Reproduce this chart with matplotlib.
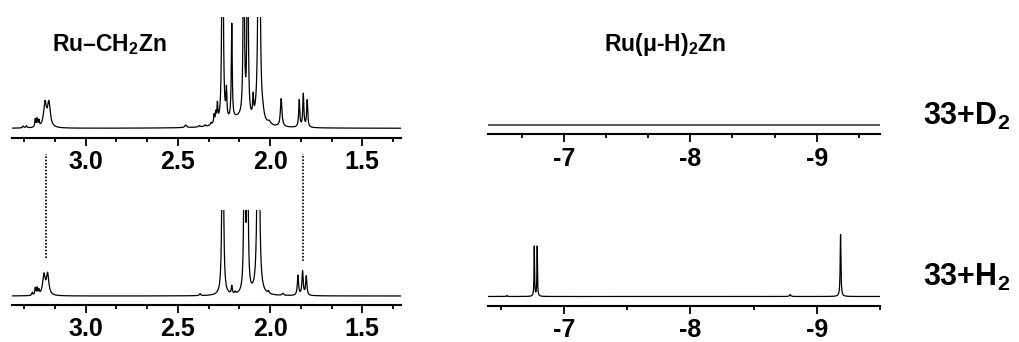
import numpy as np
import matplotlib
matplotlib.use("Agg")
import matplotlib.pyplot as plt
from matplotlib.ticker import MultipleLocator, FixedLocator
from matplotlib import transforms

plt.rcParams['font.family'] = ['Liberation Sans', 'DejaVu Sans']
plt.rcParams['font.weight'] = 'bold'
plt.rcParams['mathtext.fontset'] = 'custom'
plt.rcParams['mathtext.rm'] = 'Liberation Sans:bold'
plt.rcParams['mathtext.bf'] = 'Liberation Sans:bold'
plt.rcParams['mathtext.default'] = 'rm'

# ---- peak tables (shift / ppm, intensity / a.u., half-width / ppm) ----
# 33 + D2, methylene region
d2_ch_shift = [3.340, 3.322, 3.274, 3.264, 3.254, 3.221, 3.200, 2.458, 2.384,
               2.353, 2.320, 2.304, 2.295, 2.286, 2.258, 2.237, 2.208, 2.143,
               2.122, 2.092, 2.060, 2.040, 2.005, 1.940, 1.842, 1.820, 1.799, 2.170]
d2_ch_height = [2.0, 2.0, 8.0, 8.0, 6.0, 24.0, 24.0, 2.5, 1.5,
                1.5, 2.5, 9.0, 10.0, 18.0, 420.0, 28.0, 95.0, 280.0,
                280.0, 20.0, 520.0, 6.0, 3.0, 28.0, 27.0, 33.0, 27.0, 9.0]
d2_ch_width = [0.004, 0.004, 0.003, 0.003, 0.003, 0.009, 0.009, 0.006, 0.004,
               0.004, 0.004, 0.003, 0.003, 0.003, 0.003, 0.003, 0.003, 0.003,
               0.003, 0.003, 0.004, 0.008, 0.010, 0.005, 0.0035, 0.0035, 0.0035, 0.07]

# 33 + H2, methylene region
h2_ch_shift = [3.290, 3.274, 3.264, 3.254, 3.227, 3.207, 2.380, 2.257, 2.208,
               2.190, 2.139, 2.123, 2.064, 2.009, 1.931, 1.849, 1.824, 1.804]
h2_ch_height = [3.0, 7.0, 7.0, 4.5, 20.0, 21.0, 2.0, 420.0, 8.0,
                2.0, 290.0, 290.0, 520.0, 2.5, 2.0, 20.0, 24.0, 19.0]
h2_ch_width = [0.003, 0.003, 0.003, 0.003, 0.008, 0.008, 0.004, 0.003, 0.003,
               0.003, 0.003, 0.003, 0.004, 0.004, 0.005, 0.004, 0.004, 0.004]

# 33 + D2, hydride region (no signals)
d2_hyd_shift = []
d2_hyd_height = []
d2_hyd_width = []

# 33 + H2, hydride region
h2_hyd_shift = [-6.550, -6.766, -6.789, -8.790, -9.188]
h2_hyd_height = [1.0, 50.0, 50.0, 2.0, 62.0]
h2_hyd_width = [0.004, 0.0025, 0.0025, 0.006, 0.0035]

# axis ranges and tick steps
ch_range = (3.40, 1.29)
hyd_range = (-6.40, -9.50)
ch_ticks = [3.0, 2.5, 2.0, 1.5]
ch_labels = ['3.0', '2.5', '2.0', '1.5']
hyd_ticks = [-7, -8, -9]
hyd_labels = ['-7', '-8', '-9']
ch_minor = 0.5 / 3
hyd_minor_top, hyd_minor_bottom = 1.0 / 3, 0.5

# dotted guides linking the methylene signals
guide_shifts = [3.213, 1.822]


def spectrum(x, shifts, heights, widths):
    y = np.zeros_like(x)
    for c, h, g in zip(shifts, heights, widths):
        y += h * g ** 2 / ((x - c) ** 2 + g ** 2)
    return y


W, H = 1019, 342
fig = plt.figure(figsize=(W / 100, H / 100), dpi=100)


def add_axes(x0, x1, ybot, ytop):
    return fig.add_axes([x0 / W, 1 - ybot / H, (x1 - x0) / W, (ybot - ytop) / H])


ax_tl = add_axes(12, 401, 138, 16.7)
ax_bl = add_axes(12, 401, 305, 210)
ax_tr = add_axes(488, 880, 134, 16.7)
ax_br = add_axes(488, 880, 305.5, 210)

x_ch = np.linspace(ch_range[0], ch_range[1], 12000)
x_hyd = np.linspace(hyd_range[0], hyd_range[1], 12000)

panels = [
    (ax_tl, x_ch, d2_ch_shift, d2_ch_height, d2_ch_width, (-9.7, 111.6)),
    (ax_bl, x_ch, h2_ch_shift, h2_ch_height, h2_ch_width, (-9.0, 86.0)),
    (ax_tr, x_hyd, d2_hyd_shift, d2_hyd_height, d2_hyd_width, (-9.0, 108.3)),
    (ax_br, x_hyd, h2_hyd_shift, h2_hyd_height, h2_hyd_width, (-9.0, 86.5)),
]

for ax, x, s, h, w, ylim in panels:
    ax.plot(x, spectrum(x, s, h, w), color='black', lw=0.9)
    ax.set_xlim(x[0], x[-1])
    ax.set_ylim(*ylim)
    for side in ('top', 'left', 'right'):
        ax.spines[side].set_visible(False)
    ax.spines['bottom'].set_linewidth(1.5)
    ax.set_yticks([])
    ax.patch.set_visible(False)
    ax.tick_params(axis='x', which='major', direction='out', length=6,
                   width=1.3, pad=3, labelsize=18)
    ax.tick_params(axis='x', which='minor', direction='out', length=3,
                   width=1.3)

for ax in (ax_tl, ax_bl):
    ax.xaxis.set_major_locator(FixedLocator(ch_ticks))
    ax.xaxis.set_minor_locator(MultipleLocator(ch_minor))
    ax.set_xticklabels(ch_labels, fontweight='bold')

for ax, mn in ((ax_tr, hyd_minor_top), (ax_br, hyd_minor_bottom)):
    ax.xaxis.set_major_locator(FixedLocator(hyd_ticks))
    ax.xaxis.set_minor_locator(MultipleLocator(mn))
    ax.set_xticklabels(hyd_labels, fontweight='bold')

# dotted guides running from the lower trace up to the upper axis
tr = transforms.blended_transform_factory(ax_bl.transData, ax_bl.transAxes)
for xs, y0 in zip(guide_shifts, [0.49, 0.465]):
    ax_bl.plot([xs, xs], [y0, 1.59], transform=tr, clip_on=False,
               color='black', lw=1.2, linestyle=(0, (1, 1)))

fig.text(51.7 / W, 1 - 50.7 / H, 'Ru–CH$_2$Zn', fontsize=16.5,
         fontweight='bold', va='baseline', ha='left')
fig.text(604 / W, 1 - 51 / H, 'Ru(μ-H)$_2$Zn', fontsize=16.5,
         fontweight='bold', va='baseline', ha='left')
fig.text(923 / W, 1 - 125 / H, '33+D$_2$', fontsize=22,
         fontweight='bold', va='baseline', ha='left')
fig.text(923 / W, 1 - 286 / H, '33+H$_2$', fontsize=22,
         fontweight='bold', va='baseline', ha='left')

fig.savefig('out.png', dpi=100)
